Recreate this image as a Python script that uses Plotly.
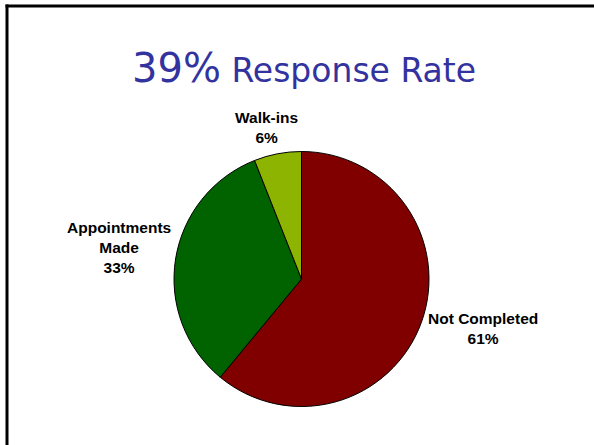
import plotly.graph_objects as go

W, H = 594, 445

labels = ["Not Completed", "Appointments Made", "Walk-ins"]
values = [61, 33, 6]
label_lines = [["Not Completed"], ["Appointments", "Made"], ["Walk-ins"]]
colors = ["#800000", "#006300", "#8DB400"]
title_big = "39%"
title_rest = "Response Rate"

# label anchor positions in pixels (style)
label_pos = [(482.5, 328), (119, 248), (266, 127)]


def px(x):
    return x / W


def py(y):
    return 1 - y / H


fig = go.Figure()

cx, cy, r = 301.5, 279, 127.5
fig.add_trace(go.Pie(
    labels=labels,
    values=values,
    sort=False,
    direction="clockwise",
    rotation=0,
    textinfo="none",
    hoverinfo="label+percent",
    marker=dict(colors=colors, line=dict(color="black", width=1)),
    domain=dict(x=[px(cx - r), px(cx + r)], y=[py(cy + r), py(cy - r)]),
    showlegend=False,
))

total = sum(values)
annotations = []
for lines, v, (x, y) in zip(label_lines, values, label_pos):
    text = "<br>".join(lines + [f"{round(100 * v / total)}%"])
    annotations.append(dict(
        text=f"<b>{text}</b>", x=px(x), y=py(y), xref="paper", yref="paper",
        xanchor="center", yanchor="middle", showarrow=False, align="center",
        font=dict(family="Liberation Sans, Arial", size=15.5, color="black"),
    ))

annotations.append(dict(
    text=f"<span style='font-size:40px'>{title_big}</span> {title_rest}",
    x=px(303.5), y=py(68), xref="paper", yref="paper",
    xanchor="center", yanchor="middle", showarrow=False,
    font=dict(family="DejaVu Sans", size=33, color="#3333A0"),
))

shapes = [
    dict(type="line", xref="paper", yref="paper", x0=px(5.5), x1=1.0, y0=py(6), y1=py(6),
         line=dict(color="black", width=3)),
    dict(type="line", xref="paper", yref="paper", x0=px(7), x1=px(7), y0=py(4.5), y1=0.0,
         line=dict(color="black", width=3)),
]

fig.update_layout(
    width=W, height=H,
    margin=dict(l=0, r=0, t=0, b=0),
    paper_bgcolor="white", plot_bgcolor="white",
    annotations=annotations, shapes=shapes,
)

fig.write_html(
    "out.html",
    config={"displayModeBar": False},
    post_script="document.body.style.margin='0px';document.body.style.overflow='hidden';",
)
